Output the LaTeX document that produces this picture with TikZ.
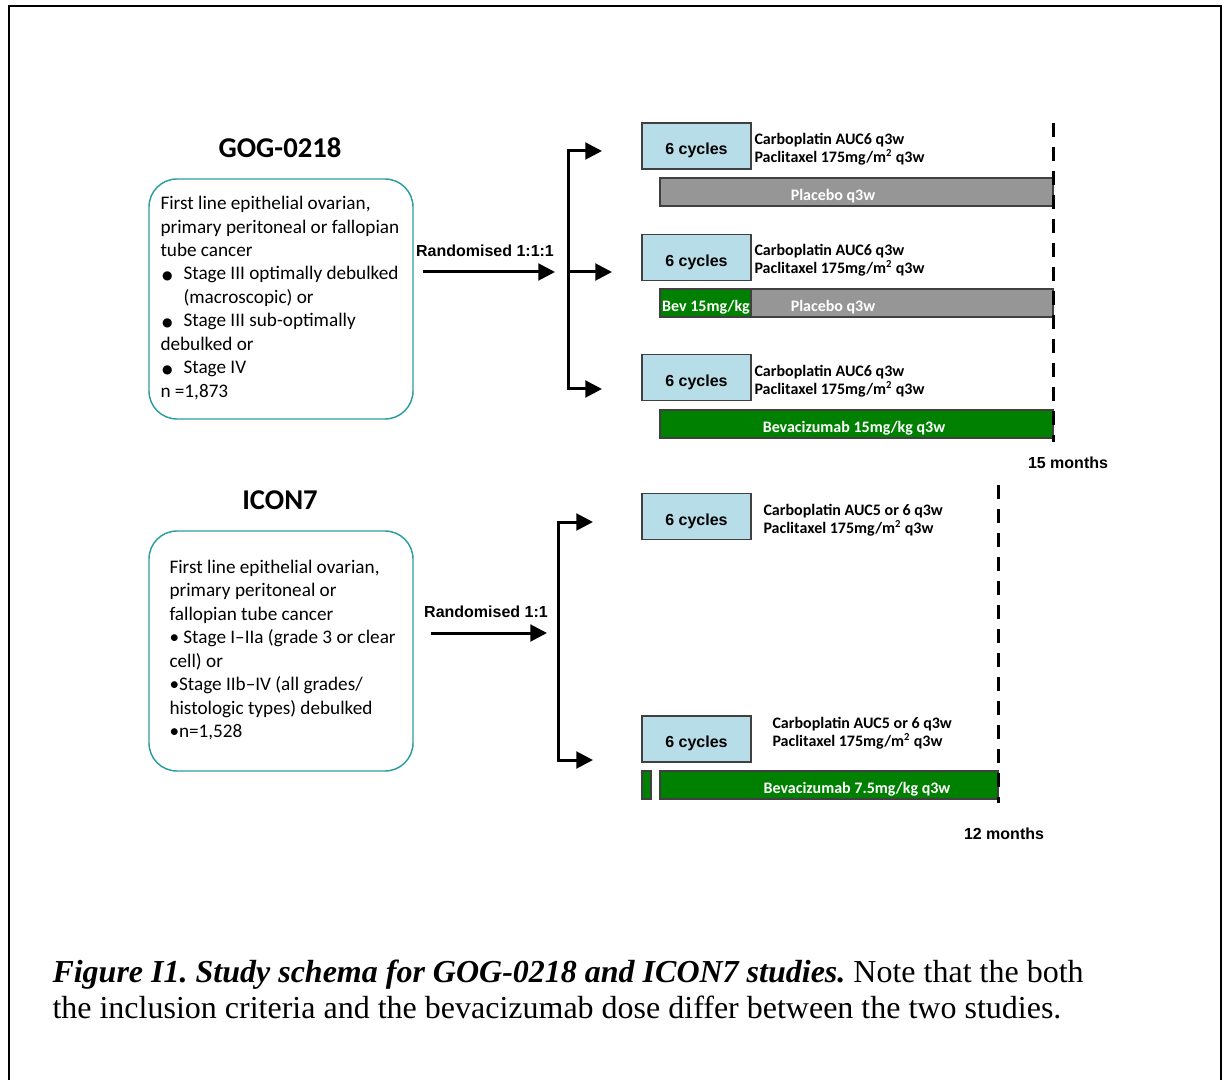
\documentclass[tikz,border=0pt]{standalone}
\usepackage{fontspec}
\setmainfont{Carlito}
\newfontfamily\arialfont{Liberation Sans}
\newfontfamily\serifcap{Liberation Serif}
\newfontfamily\symfont{DejaVu Sans}
\usetikzlibrary{arrows.meta,positioning}
\frenchspacing

\definecolor{critteal}{RGB}{44,158,160}
\definecolor{cycblue}{RGB}{183,222,232}
\definecolor{placgray}{RGB}{150,150,150}
\definecolor{bevgreen}{RGB}{0,128,0}
\definecolor{edgegray}{RGB}{64,64,64}

\newcommand{\bul}{\makebox[17.25pt][l]{\hspace{1.2pt}{\symfont\fontsize{9}{9}\selectfont ●}}}

\tikzset{every picture/.style={line width=0.75pt}}

\begin{document}
\begin{tikzpicture}[x=0.75pt,y=0.75pt,yscale=-1,xscale=1,
  studytitle/.style={font=\bfseries\fontsize{21.5}{24}\selectfont},
  critbox/.style={draw=critteal, line width=1.1pt, rounded corners=21pt, minimum width=198pt, minimum height=180pt},
  crittxt/.style={align=left, inner sep=0pt, anchor=west, font=\fontsize{14.4}{17.6}\selectfont},
  cycbox/.style={draw=edgegray, fill=cycblue, line width=1.1pt, minimum width=81.75pt, minimum height=34.5pt, text height=13pt, text depth=0pt, font=\arialfont\bfseries\fontsize{12}{14}\selectfont},
  regtxt/.style={align=left, inner sep=0pt, anchor=west, font=\bfseries\fontsize{12}{13.5}\selectfont},
  bartxt/.style={text=white, inner sep=0pt, font=\bfseries\fontsize{12}{14}\selectfont},
  armlbl/.style={inner sep=0pt, font=\arialfont\bfseries\fontsize{12}{14}\selectfont},
  plac/.style={draw=edgegray, fill=placgray, line width=1.1pt},
  bev/.style={draw=edgegray, fill=bevgreen, line width=1.1pt},
  thk/.style={line width=2.25pt},
  arr/.style={thk, -{Triangle[length=12.5pt,width=12.5pt]}},
  darr/.style={thk, {Triangle[length=12.5pt,width=12.5pt]}-{Triangle[length=12.5pt,width=12.5pt]}},
  endline/.style={line width=2.25pt, dash pattern=on 10.5pt off 7.5pt}
]
\useasboundingbox (0,0) rectangle (1228,1080);

%Frame
\draw [line width=1.5pt] (9,1100) -- (9,6) -- (1221,6) -- (1221,1100) ;

%%%%% GOG-0218 %%%%%

% Text Node
\node [studytitle] (gogtitle) at (280,148) {GOG-0218};

%Rounded Rect
\node [critbox] (crit1) at (281,299) {};
% Text Node
\node [crittxt] (crit1txt) at (160,298) {First line epithelial ovarian,\\
primary peritoneal or fallopian\\
tube cancer\\
\bul Stage III optimally debulked\\
\hspace*{17.25pt}(macroscopic) or\\
\bul Stage III sub-optimally\\
debulked or\\
\bul Stage IV\\
n =1,873};

% Text Node
\node [armlbl] (rand1) at (485,251) {Randomised 1:1:1};

%Straight Lines
\coordinate (r1s) at (423,272);
\coordinate (r1e) at (555,272);
\draw [arr] (r1s) -- (r1e) ;

%Bracket
\coordinate (a1t) at (602,151);
\coordinate (b1b) at (568,389);
\coordinate (a1b) at (602,389);
\coordinate (b1m) at (568,272);
\coordinate (a1m) at (612,272);
\draw [darr] (a1t) -| (b1b) -- (a1b) ;
\draw [arr] (b1m) -- (a1m) ;

%Shape: Rectangle
\node [cycbox] (cyc1) at (696.5,146) {6 cycles};
\node [cycbox] (cyc2) at (696.5,257.5) {6 cycles};
\node [cycbox] (cyc3) at (696.5,377.5) {6 cycles};

% Text Node
\node [regtxt] (reg1) at (754,149.5) {Carboplatin AUC6 q3w\\Paclitaxel 175mg/m\textsuperscript{2} q3w};
\node [regtxt] (reg2) at (754,260.5) {Carboplatin AUC6 q3w\\Paclitaxel 175mg/m\textsuperscript{2} q3w};
\node [regtxt] (reg3) at (754,381) {Carboplatin AUC6 q3w\\Paclitaxel 175mg/m\textsuperscript{2} q3w};

%Bars
\draw [plac] (660,178) rectangle (1053,206) ;
\draw [plac] (751,289) rectangle (1053,317) ;
\draw [bev] (660,289) rectangle (751,317) ;
\draw [bev] (660,410) rectangle (1053,438) ;

% Text Node
\node [bartxt] (bar1txt) at (833,196) {Placebo q3w};
\node [bartxt] (bar2atxt) at (706,307) {Bev 15mg/kg};
\node [bartxt] (bar2btxt) at (833,307) {Placebo q3w};
\node [bartxt] (bar3txt) at (854,428) {Bevacizumab 15mg/kg q3w};

%Dashed Line
\coordinate (end1t) at (1053,123);
\coordinate (end1b) at (1053,442);
\draw [endline] (end1t) -- (end1b) ;
% Text Node
\node [armlbl] (mon15) at (1068,463) {15 months};

%%%%% ICON7 %%%%%

% Text Node
\node [studytitle] (icontitle) at (280,500) {ICON7};

%Rounded Rect
\node [critbox] (crit2) at (281,651) {};
% Text Node
\node [crittxt] (crit2txt) at (169,650) {First line epithelial ovarian,\\
primary peritoneal or\\
fallopian tube cancer\\
• Stage I–IIa (grade 3 or clear\\
cell) or\\
•Stage IIb–IV (all grades/\\
histologic types) debulked\\
•n=1,528};

% Text Node
\node [armlbl] (rand2) at (486,612) {Randomised 1:1};

%Straight Lines
\coordinate (r2s) at (431,633);
\coordinate (r2e) at (547,633);
\draw [arr] (r2s) -- (r2e) ;

%Bracket
\coordinate (a2t) at (593,522);
\coordinate (b2b) at (558,760);
\coordinate (a2b) at (593,760);
\draw [darr] (a2t) -| (b2b) -- (a2b) ;

%Shape: Rectangle
\node [cycbox] (cyc4) at (696.5,516.5) {6 cycles};
\node [cycbox] (cyc5) at (696.5,739) {6 cycles};

% Text Node
\node [regtxt] (reg4) at (763,520) {Carboplatin AUC5 or 6 q3w\\Paclitaxel 175mg/m\textsuperscript{2} q3w};
\node [regtxt] (reg5) at (772,733) {Carboplatin AUC5 or 6 q3w\\Paclitaxel 175mg/m\textsuperscript{2} q3w};

%Bars
\draw [bev] (642,771) rectangle (651,799) ;
\draw [bev] (660,771) rectangle (998,799) ;
% Text Node
\node [bartxt] (bar5txt) at (857,789) {Bevacizumab 7.5mg/kg q3w};

%Dashed Line
\coordinate (end2t) at (998,485);
\coordinate (end2b) at (998,803);
\draw [endline] (end2t) -- (end2b) ;
% Text Node
\node [armlbl] (mon12) at (1004,834) {12 months};

%%%%% Caption %%%%%
% Text Node
\node [align=left, inner sep=0pt, anchor=north west, font=\serifcap\fontsize{24}{27}\selectfont] (caption) at (52,959) {{\bfseries\itshape Figure I1. Study schema for GOG-0218 and ICON7 studies.} Note that the both\\
the inclusion criteria and the bevacizumab dose differ between the two studies.};

\end{tikzpicture}
\end{document}
